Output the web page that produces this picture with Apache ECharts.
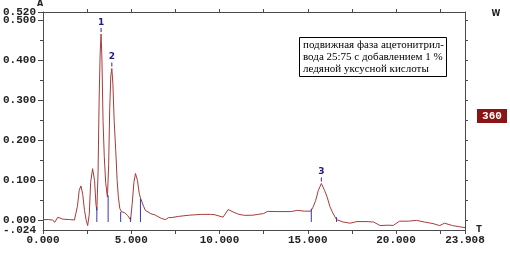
<!DOCTYPE html>
<html><head><meta charset="utf-8">
<script src="https://cdn.jsdelivr.net/npm/echarts@6/dist/echarts.min.js"></script>
<style>html,body{margin:0;padding:0;background:#fff}#c{width:510px;height:258px}</style>
</head><body><div id="c"></div>
<script>
const times = [0.00,0.30,0.55,0.66,0.84,1.12,1.50,1.78,1.95,2.05,2.15,2.25,2.35,2.45,2.53,2.62,2.70,2.81,2.92,3.00,3.05,3.12,3.18,3.24,3.29,3.34,3.40,3.47,3.55,3.65,3.72,3.78,3.84,3.90,3.96,4.03,4.12,4.20,4.27,4.35,4.45,4.60,4.80,4.96,5.05,5.15,5.24,5.35,5.45,5.52,5.60,5.70,5.80,6.10,6.37,6.70,6.93,7.12,7.30,7.68,8.30,8.99,9.50,9.74,10.20,10.49,10.77,11.10,11.42,11.90,12.17,12.50,12.73,13.20,14.04,14.42,14.80,15.17,15.30,15.45,15.60,15.77,15.95,16.10,16.25,16.39,16.55,16.63,17.00,17.40,17.79,18.30,18.73,19.10,19.50,19.85,20.20,20.70,21.16,21.60,22.10,22.47,22.75,23.20,23.60,23.908];
const absorbance = [0.002,0.002,0.001,-0.005,0.008,0.003,0.002,0.001,0.035,0.075,0.086,0.065,0.025,0.000,-0.013,0.015,0.095,0.129,0.100,0.040,0.025,0.120,0.300,0.420,0.465,0.400,0.250,0.160,0.095,0.058,0.140,0.280,0.360,0.379,0.340,0.250,0.175,0.100,0.058,0.030,0.021,0.020,0.012,0.001,0.040,0.095,0.117,0.100,0.068,0.056,0.055,0.035,0.025,0.017,0.013,0.005,0.002,0.007,0.007,0.010,0.013,0.015,0.015,0.014,0.008,0.027,0.021,0.015,0.0125,0.013,0.015,0.017,0.0225,0.022,0.022,0.025,0.023,0.023,0.033,0.050,0.075,0.092,0.075,0.058,0.035,0.021,0.008,0.002,-0.004,-0.007,-0.003,-0.003,-0.004,-0.013,-0.012,-0.0125,-0.002,-0.002,0.000,-0.004,-0.008,-0.013,-0.007,-0.013,-0.016,-0.018];

const markerT = [3.05,3.69,4.40,4.96,5.52,15.20,16.63];
const markerTop = [0.033,0.0625,0.021,0.008,0.054,0.029,0.008];
const markerBottom = [-0.004,-0.004,-0.004,-0.004,-0.004,-0.004,-0.004];

const peakT = [3.29,3.90,15.77];
const peakV = [0.465,0.379,0.092];
const peakNames = ['1','2','3'];

const xLabelValues = [0,5,10,15,20,23.908];
const xTickValues = [0,2.5,5,7.5,10,12.5,15,17.5,20,22.5,23.908];
const yLabelValues = [0,0.1,0.2,0.3,0.4,0.5];
const yEndLabelValues = [-0.024,0.52];
const yMajorTicks = [0,0.1,0.2,0.3,0.4,0.5,0.52];
const yMinorTicks = [0.05,0.15,0.25,0.35,0.45];
const yRightTicks = [0,0.05,0.1,0.15,0.2,0.25,0.3,0.35,0.4,0.45,0.5];
const noteLines = ['подвижная фаза ацетонитрил-','вода 25:75 с добавлением 1 %','ледяной уксусной кислоты'];

const axisColor = '#4a4a4a';
const labelFont = {fontFamily:'Liberation Mono', fontWeight:'bold', fontSize:11, color:'#222'};
const yFmt = v=>v<0?'-.'+Math.abs(v).toFixed(3).split('.')[1]:v.toFixed(3);
const chart = echarts.init(document.getElementById('c'), null, {renderer:'canvas'});
const curve = times.map((t,i)=>[t,absorbance[i]]);
const markers = markerT.map((t,i)=>[t,markerTop[i],markerBottom[i]]);
const peaks = peakT.map((t,i)=>[t,peakV[i],peakNames[i]]);

chart.setOption({
  animation:false,
  grid:{left:40,right:45,top:12,bottom:28},
  xAxis:[
    {type:'value',position:'bottom',min:0,max:23.908,
     axisLine:{show:true,onZero:false,lineStyle:{color:axisColor}},
     axisTick:{show:true,length:4,customValues:xTickValues,lineStyle:{color:axisColor}},
     axisLabel:{show:true,customValues:xLabelValues,margin:5,hideOverlap:false,showMinLabel:true,showMaxLabel:true,
       formatter:v=>v.toFixed(3),...labelFont},
     splitLine:{show:false}},
    {type:'value',position:'top',min:0,max:23.908,
     axisLine:{show:true,onZero:false,lineStyle:{color:axisColor}},
     axisTick:{show:true,length:3,customValues:[2.5,5,7.5,10,12.5,15,17.5,20,22.5],lineStyle:{color:axisColor}},
     axisLabel:{show:false},splitLine:{show:false}}
  ],
  yAxis:[
    {type:'value',position:'left',min:-0.024,max:0.52,
     axisLine:{show:true,onZero:false,lineStyle:{color:axisColor}},
     axisTick:{show:true,length:5,customValues:yMajorTicks,lineStyle:{color:axisColor}},
     axisLabel:{show:true,customValues:yLabelValues,margin:7,hideOverlap:false,showMinLabel:true,showMaxLabel:true,
       formatter:yFmt,...labelFont},
     splitLine:{show:false}},
    {type:'value',position:'left',min:-0.024,max:0.52,
     axisLine:{show:false},
     axisTick:{show:true,length:3,customValues:yMinorTicks,lineStyle:{color:axisColor}},
     axisLabel:{show:true,customValues:yEndLabelValues,margin:7,hideOverlap:false,showMinLabel:true,showMaxLabel:true,
       formatter:yFmt,...labelFont},
     splitLine:{show:false}},
    {type:'value',position:'right',min:-0.024,max:0.52,
     axisLine:{show:true,onZero:false,lineStyle:{color:axisColor}},
     axisTick:{show:true,length:3,customValues:yRightTicks,lineStyle:{color:axisColor}},
     axisLabel:{show:false},splitLine:{show:false}}
  ],
  series:[
    {type:'line',data:curve,showSymbol:false,symbol:'none',smooth:false,
     lineStyle:{color:'#a83a3a',width:1},z:3},
    {type:'custom',data:markers,z:4,
     renderItem:(p,api)=>{
       const a=api.coord([api.value(0),api.value(1)]);
       const b=api.coord([api.value(0),api.value(2)]);
       return {type:'line',shape:{x1:a[0],y1:a[1],x2:b[0],y2:b[1]},style:{stroke:'#3535c0',lineWidth:1}};
     }},
    {type:'custom',data:peaks,z:5,
     renderItem:(p,api)=>{
       const c=api.coord([api.value(0),api.value(1)]);
       return {type:'group',children:[
         {type:'line',shape:{x1:c[0],y1:c[1]-2,x2:c[0],y2:c[1]-6},style:{stroke:'#2a2a8a',lineWidth:1}},
         {type:'text',style:{x:c[0],y:c[1]-7,text:peakNames[p.dataIndex],textAlign:'center',textVerticalAlign:'bottom',
           font:'bold 9px "DejaVu Sans"',fill:'#1e1e80'}}
       ]};
     }}
  ],
  graphic:[
    {type:'rect',shape:{x:299.5,y:37.5,width:147,height:39},style:{fill:'#fff',stroke:'#000',lineWidth:1},z:10},
    {type:'text',x:303,y:39,style:{text:noteLines.join('\n'),font:'11px "Liberation Serif"',lineHeight:12,fill:'#000'},z:11},
    {type:'rect',shape:{x:477,y:109,width:30,height:14},style:{fill:'#8b1414'},z:10},
    {type:'text',x:492,y:116,style:{text:'360',font:'bold 11px "Liberation Mono"',fill:'#fff',textAlign:'center',textVerticalAlign:'middle'},z:11},
    {type:'text',x:40,y:4,style:{text:'A',font:'bold 8px "DejaVu Sans"',fill:'#222',textAlign:'center',textVerticalAlign:'middle'}},
    {type:'text',x:496,y:14,style:{text:'W',font:'bold 8px "DejaVu Sans"',fill:'#222',textAlign:'center',textVerticalAlign:'middle'}},
    {type:'text',x:479,y:230,style:{text:'T',font:'bold 8px "DejaVu Sans"',fill:'#222',textAlign:'center',textVerticalAlign:'middle'}}
  ]
});
</script></body></html>
